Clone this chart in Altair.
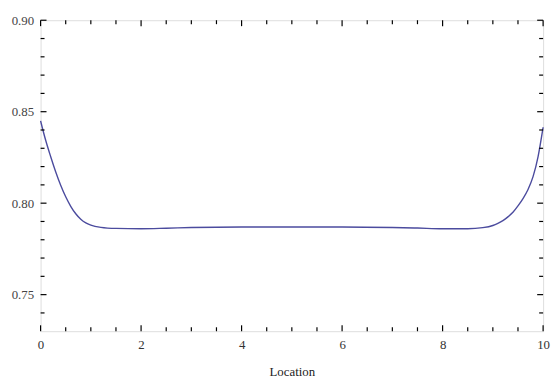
import altair as alt
import pandas as pd

# Curve data
location = [0, 0.1, 0.2, 0.3, 0.4, 0.5, 0.6, 0.7, 0.8, 0.9, 1.0, 1.2, 1.5, 2.0, 2.5, 3, 4, 5,
            6, 7, 7.5, 8, 8.5, 8.8, 9.0, 9.1, 9.2, 9.3, 9.4, 9.5, 9.6, 9.7, 9.8, 9.9, 10]
value = [0.845, 0.8345, 0.8255, 0.8172, 0.8098, 0.8035, 0.7983, 0.7942, 0.7912, 0.7892,
         0.7880, 0.7868, 0.7862, 0.786, 0.7863, 0.7867, 0.787, 0.787, 0.787, 0.7867,
         0.7864, 0.786, 0.786, 0.7866, 0.7878, 0.789, 0.7905, 0.7925, 0.795, 0.7985,
         0.8025, 0.8075, 0.8145, 0.8255, 0.8415]

# Tick values
x_major = [0, 2, 4, 6, 8, 10]
x_minor = [0.5, 1, 1.5, 2.5, 3, 3.5, 4.5, 5, 5.5, 6.5, 7, 7.5, 8.5, 9, 9.5]
y_major = [0.75, 0.80, 0.85, 0.90]
y_minor = [0.74, 0.76, 0.77, 0.78, 0.79, 0.81, 0.82, 0.83, 0.84, 0.86, 0.87, 0.88, 0.89]

W, H = 509, 315
FONT = "Liberation Serif"
MAJ, MIN = 6, 4

xs = alt.Scale(domain=[0, 10], nice=False, zero=False)
ys = alt.Scale(domain=[0.73, 0.90], nice=False, zero=False)

df = pd.DataFrame({"x": location, "y": value})
line = alt.Chart(df).mark_line(color="#4b4b9e", strokeWidth=1.4, interpolate="monotone").encode(
    x=alt.X("x:Q", scale=xs, title="Location",
            axis=alt.Axis(values=x_major, ticks=False, domain=False, grid=False,
                          labelFlush=False, labelOverlap=False,
                          labelFont=FONT, labelFontSize=13, labelColor="#333",
                          labelPadding=7, titleFont=FONT, titleFontSize=13,
                          titleFontWeight="normal", titleColor="#222", titlePadding=15)),
    y=alt.Y("y:Q", scale=ys, title=None,
            axis=alt.Axis(values=y_major, format=".2f", ticks=False, domain=False, grid=False,
                          labelFlush=False, labelOverlap=False,
                          labelFont=FONT, labelFontSize=13, labelColor="#444",
                          labelPadding=7)),
)

dxM = pd.DataFrame({"x": x_major})
dxm = pd.DataFrame({"x": x_minor})
dyM = pd.DataFrame({"y": y_major})
dym = pd.DataFrame({"y": y_minor})

def xticks(d, length):
    b = alt.Chart(d).mark_rule(color="black", strokeWidth=1.2).encode(
        x=alt.X("x:Q", scale=xs), y=alt.value(H), y2=alt.value(H - length))
    t = alt.Chart(d).mark_rule(color="black", strokeWidth=1.2).encode(
        x=alt.X("x:Q", scale=xs), y=alt.value(0), y2=alt.value(length))
    return [b, t]

def yticks(d, length):
    l = alt.Chart(d).mark_rule(color="black", strokeWidth=1.2).encode(
        y=alt.Y("y:Q", scale=ys), x=alt.value(0), x2=alt.value(length))
    r = alt.Chart(d).mark_rule(color="black", strokeWidth=1.2).encode(
        y=alt.Y("y:Q", scale=ys), x=alt.value(W), x2=alt.value(W - length))
    return [l, r]

layers = [line] + xticks(dxM, MAJ) + xticks(dxm, MIN) + yticks(dyM, MAJ) + yticks(dym, MIN)

chart = alt.layer(*layers).properties(
    width=W, height=H,
    autosize=alt.AutoSizeParams(type="none"),
    padding={"left": 33, "top": 10, "right": 8, "bottom": 46},
).configure_view(stroke="black", strokeWidth=1.3).configure(background="white")

chart.save("out.html", embed_options={"renderer": "svg", "actions": False})
